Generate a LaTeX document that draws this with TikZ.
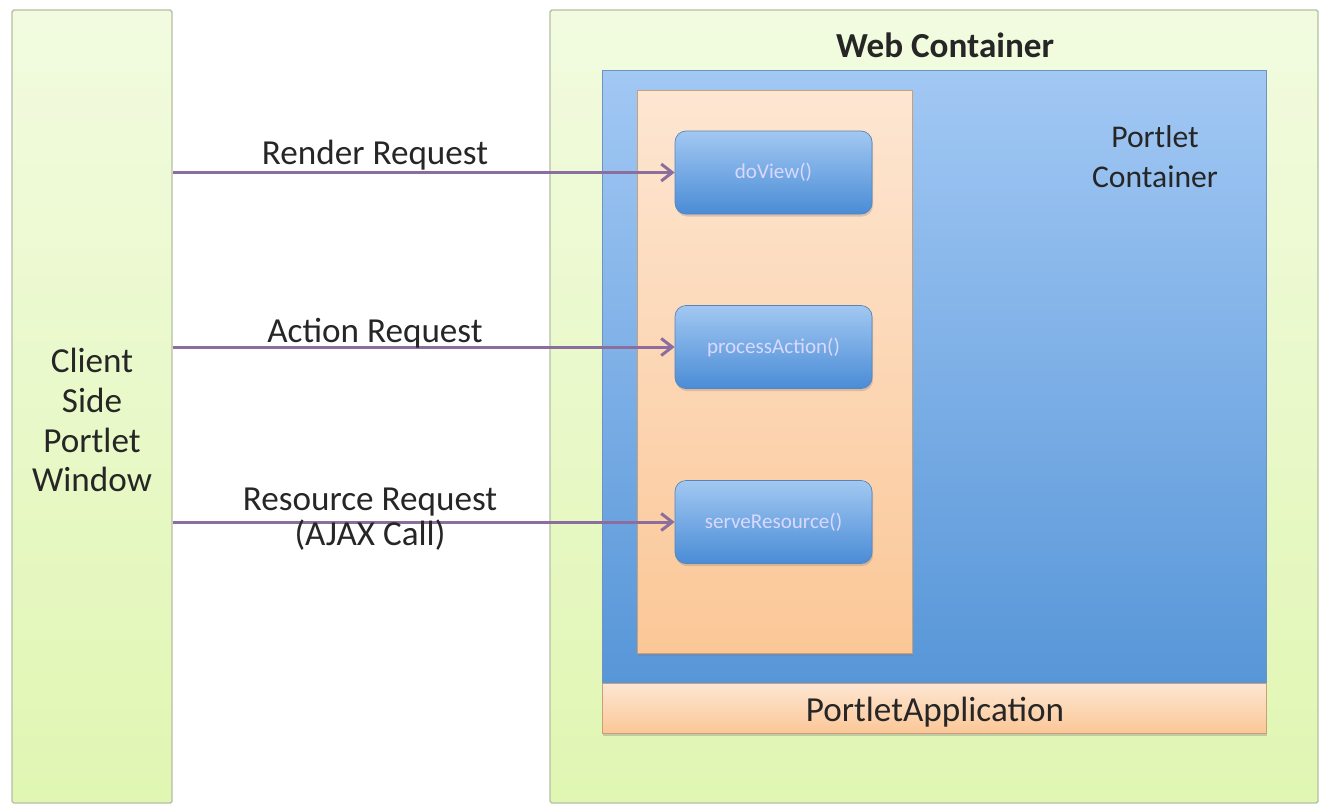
\documentclass[tikz,border=0pt]{standalone}
\usepackage{fontspec}
\setmainfont{Carlito}
\usepackage{tikz}
\usetikzlibrary{positioning}
\usetikzlibrary{shadows}
\usetikzlibrary{arrows.meta}

\definecolor{greenTop}{HTML}{F2FBE0}
\definecolor{greenBot}{HTML}{E0F6B2}
\definecolor{greenLine}{HTML}{B4BFA4}
\definecolor{blueTop}{HTML}{A2C8F4}
\definecolor{blueBot}{HTML}{5796D8}
\definecolor{blueLine}{HTML}{6E93C0}
\definecolor{orangeTop}{HTML}{FDE6D2}
\definecolor{orangeBot}{HTML}{FBC797}
\definecolor{methodTop}{HTML}{A2C8F2}
\definecolor{methodBot}{HTML}{4A8CD6}
\definecolor{methodLine}{HTML}{5A84B8}
\definecolor{arrowPurple}{HTML}{8C6E9E}

\begin{document}
\begin{tikzpicture}
    \tikzstyle{side-box} = [draw=greenLine, thick, top color=greenTop, bottom color=greenBot, rectangle, rounded corners=1pt, inner sep=0pt];
    \tikzstyle{container} = [draw=blueLine, top color=blueTop, bottom color=blueBot, rectangle, inner sep=0pt];
    \tikzstyle{app-block} = [draw=orangeBot!80!black, top color=orangeTop, bottom color=orangeBot, rectangle, inner sep=0pt, drop shadow={opacity=0.35, shadow xshift=0.02, shadow yshift=-0.05}];
    \tikzstyle{method} = [draw=methodLine, top color=methodTop, bottom color=methodBot, rectangle, rounded corners=0.22cm, minimum width=3.94cm, minimum height=1.66cm, text=white!85!blue, font=\fontsize{12}{14}\selectfont, drop shadow={opacity=0.3, shadow xshift=0.02, shadow yshift=-0.05}];
    \tikzstyle{label} = [font=\fontsize{20}{22.7}\selectfont, align=center, text=black!85];
    \tikzstyle{pointer} = [draw=arrowPurple, line width=1.7pt, -{Straight Barb[length=2.2mm, width=3.4mm]}];

    \useasboundingbox (0, 0) rectangle (26.44, -16.16);

    \node[side-box, minimum width=3.2cm, minimum height=15.86cm] (client) at (1.84, -8.13) {};
    \node[label] (client-text) at (1.84, -8.4) {Client\\Side\\Portlet\\Window};

    \node[side-box, minimum width=15.36cm, minimum height=15.86cm] (web) at (18.68, -8.13) {};
    \node[label, font=\fontsize{20}{22}\selectfont\bfseries] (web-text) at (18.9, -0.9) {Web Container};

    \node[container, minimum width=13.28cm, minimum height=12.26cm] (portlet) at (18.68, -7.53) {};
    \node[label, font=\fontsize{18}{22.7}\selectfont] (portlet-text) at (23.1, -3.14) {Portlet\\Container};

    \node[app-block, minimum width=13.28cm, minimum height=1.0cm] (app) at (18.68, -14.16) {};
    \node[label] (app-text) at (18.7, -14.24) {PortletApplication};

    \node[app-block, minimum width=5.5cm, minimum height=11.26cm] (portlet-app) at (15.49, -7.43) {};

    \node[method] (do-view) at (15.47, -3.45)  {doView()};
    \node[method] (process-action) at (15.47, -6.94) {processAction()};
    \node[method] (serve-resource) at (15.47, -10.44) {serveResource()};

    \draw [pointer] (do-view.west -| client.east) -- (do-view.west);
    \draw [pointer] (process-action.west -| client.east) -- (process-action.west);
    \draw [pointer] (serve-resource.west -| client.east) -- (serve-resource.west);

    \node[label] (render-text) at (7.5, -3.1) {Render Request};
    \node[label] (action-text) at (7.5, -6.66) {Action Request};
    \node[label, font=\fontsize{20}{20}\selectfont] (resource-text) at (7.4, -10.38) {Resource Request\\(AJAX Call)};
\end{tikzpicture}
\end{document}
